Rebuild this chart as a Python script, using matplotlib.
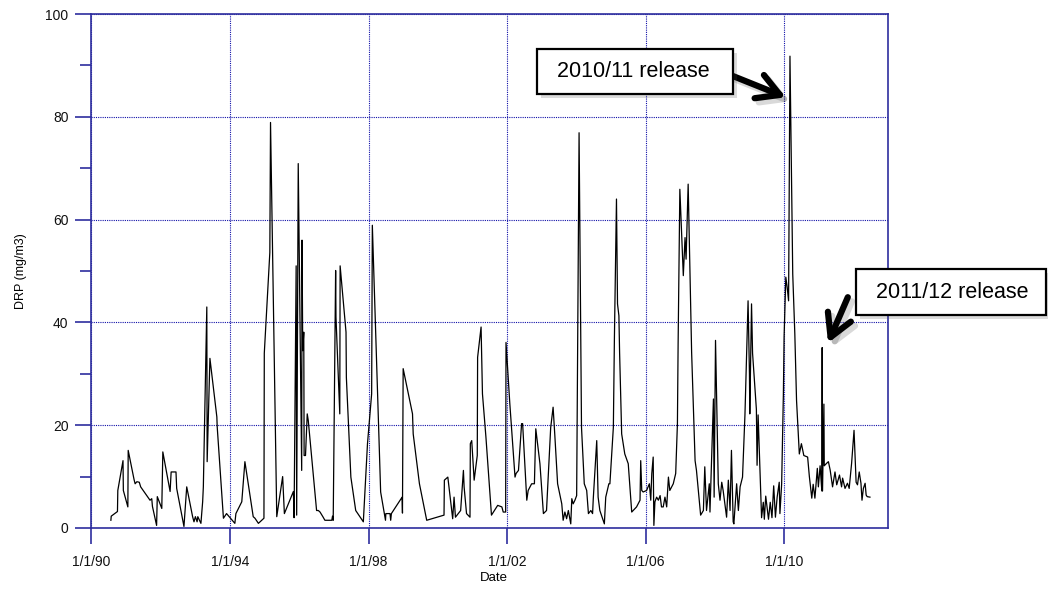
import numpy as np
import matplotlib
matplotlib.use("Agg")
import matplotlib.pyplot as plt
import matplotlib.patheffects as pe
from matplotlib.patches import Rectangle
from matplotlib.ticker import MultipleLocator

plt.rcParams['font.family'] = ['Liberation Sans', 'DejaVu Sans']

# sample dates (decimal years) and DRP values (mg/m3)
years = [
    1990.56, 1990.57, 1990.75, 1990.76, 1990.91, 1990.92, 1991.05, 1991.06, 1991.23, 1991.26,
    1991.31, 1991.38, 1991.42, 1991.69, 1991.74, 1991.76, 1991.88, 1991.90, 1992.03, 1992.06,
    1992.27, 1992.30, 1992.44, 1992.46, 1992.67, 1992.75, 1992.92, 1992.96, 1993.00, 1993.05,
    1993.07, 1993.16, 1993.21, 1993.23, 1993.33, 1993.34, 1993.42, 1993.62, 1993.63, 1993.81,
    1993.90, 1994.14, 1994.17, 1994.34, 1994.43, 1994.67, 1994.72, 1994.82, 1994.98, 1994.99,
    1995.15, 1995.17, 1995.35, 1995.52, 1995.57, 1995.83, 1995.85, 1995.91, 1995.925, 1995.97,
    1996.07, 1996.08, 1996.10, 1996.13, 1996.14, 1996.18, 1996.23, 1996.26, 1996.50, 1996.55,
    1996.60, 1996.69, 1996.74, 1996.94, 1996.96, 1996.98, 1997.05, 1997.06, 1997.17, 1997.18,
    1997.35, 1997.36, 1997.49, 1997.63, 1997.85, 1997.97, 1998.09, 1998.11, 1998.35, 1998.49,
    1998.50, 1998.62, 1998.64, 1998.66, 1998.97, 1998.98, 1999.00, 1999.27, 1999.29, 1999.47,
    1999.68, 2000.18, 2000.19, 2000.29, 2000.43, 2000.47, 2000.51, 2000.66, 2000.74, 2000.76,
    2000.83, 2000.93, 2000.94, 2000.98, 2001.05, 2001.14, 2001.15, 2001.25, 2001.29, 2001.39,
    2001.55, 2001.70, 2001.73, 2001.85, 2001.89, 2001.96, 2001.97, 2002.08, 2002.23, 2002.26,
    2002.33, 2002.42, 2002.45, 2002.57, 2002.61, 2002.71, 2002.79, 2002.83, 2002.95, 2003.05,
    2003.14, 2003.26, 2003.33, 2003.38, 2003.46, 2003.58, 2003.62, 2003.67, 2003.72, 2003.77,
    2003.84, 2003.87, 2003.91, 2003.96, 2004.01, 2004.08, 2004.15, 2004.23, 2004.30, 2004.35,
    2004.42, 2004.47, 2004.49, 2004.59, 2004.63, 2004.68, 2004.81, 2004.85, 2004.94, 2004.97,
    2005.07, 2005.10, 2005.16, 2005.19, 2005.23, 2005.25, 2005.31, 2005.40, 2005.50, 2005.60,
    2005.74, 2005.84, 2005.86, 2005.89, 2005.93, 2006.03, 2006.11, 2006.15, 2006.18, 2006.22,
    2006.24, 2006.27, 2006.32, 2006.37, 2006.42, 2006.46, 2006.51, 2006.56, 2006.61, 2006.66,
    2006.70, 2006.80, 2006.87, 2006.92, 2006.94, 2006.99, 2007.05, 2007.09, 2007.14, 2007.17,
    2007.23, 2007.33, 2007.43, 2007.47, 2007.59, 2007.67, 2007.71, 2007.76, 2007.84, 2007.86,
    2007.96, 2007.98, 2008.02, 2008.10, 2008.15, 2008.20, 2008.24, 2008.29, 2008.34, 2008.39,
    2008.44, 2008.48, 2008.53, 2008.55, 2008.63, 2008.68, 2008.73, 2008.80, 2008.87, 2008.96,
    2009.00, 2009.01, 2009.06, 2009.09, 2009.20, 2009.22, 2009.25, 2009.35, 2009.40, 2009.43,
    2009.47, 2009.55, 2009.60, 2009.65, 2009.70, 2009.75, 2009.80, 2009.86, 2009.88, 2009.93,
    2009.98, 2010.00, 2010.05, 2010.09, 2010.13, 2010.17, 2010.25, 2010.31, 2010.36, 2010.44,
    2010.50, 2010.57, 2010.68, 2010.73, 2010.80, 2010.84, 2010.89, 2010.96, 2010.99, 2011.04,
    2011.09, 2011.10, 2011.11, 2011.15, 2011.16, 2011.23, 2011.28, 2011.33, 2011.40, 2011.47,
    2011.52, 2011.60, 2011.66, 2011.69, 2011.76, 2011.83, 2011.88, 2011.95, 2012.02, 2012.08,
    2012.12, 2012.17, 2012.22, 2012.25, 2012.29, 2012.34, 2012.37, 2012.40, 2012.48,
]
drp = [
    1.5, 2.3, 3.2, 7.3, 13.1, 7.3, 4.1, 15.1, 9.4, 8.6,
    9.0, 8.9, 8.0, 5.4, 5.7, 4.2, 0.5, 6.1, 3.8, 14.8,
    7.1, 10.9, 10.9, 7.7, 0.3, 8.0, 2.2, 1.2, 2.2, 1.2,
    2.2, 0.9, 5.1, 8.0, 43.0, 12.9, 33.0, 21.6, 19.7, 1.9,
    2.8, 0.9, 2.8, 5.1, 12.9, 2.2, 1.9, 0.9, 1.9, 34.0,
    53.6, 78.9, 2.2, 10.0, 2.8, 7.1, 2.0, 51.0, 2.5, 70.9,
    11.2, 56.0, 34.5, 38.1, 14.1, 14.1, 22.2, 20.9, 3.4, 3.4,
    3.1, 2.1, 1.5, 1.5, 2.3, 1.5, 50.1, 41.0, 22.2, 51.0,
    38.1, 29.3, 9.9, 3.4, 1.2, 16.4, 26.1, 58.9, 7.0, 1.5,
    2.8, 2.8, 1.5, 2.8, 6.0, 2.9, 31.0, 22.2, 18.3, 8.6,
    1.5, 2.5, 9.3, 9.9, 1.8, 6.0, 2.1, 3.4, 11.2, 8.0,
    2.8, 2.1, 16.4, 17.0, 9.3, 14.1, 33.2, 39.1, 26.1, 17.7,
    2.5, 4.1, 4.4, 4.1, 3.1, 3.1, 36.1, 24.2, 9.9, 10.6,
    11.2, 20.3, 20.3, 5.4, 7.3, 8.6, 8.6, 19.3, 12.5, 2.8,
    3.4, 19.5, 23.5, 18.0, 8.6, 4.7, 1.5, 3.1, 1.8, 3.4,
    0.8, 5.7, 4.7, 5.4, 6.3, 76.9, 19.6, 8.6, 7.3, 2.8,
    3.4, 2.8, 5.7, 17.0, 6.0, 3.4, 0.8, 6.0, 8.6, 8.6,
    19.6, 36.8, 64.0, 43.6, 41.3, 34.2, 18.3, 14.4, 12.5, 3.1,
    4.1, 5.4, 13.1, 7.3, 7.0, 7.3, 8.6, 5.4, 10.6, 13.8,
    0.5, 5.1, 6.0, 5.4, 6.3, 4.1, 4.1, 6.0, 4.1, 9.9,
    7.3, 8.6, 10.6, 20.3, 35.8, 65.9, 55.5, 49.1, 56.5, 52.3,
    66.9, 34.2, 13.1, 11.2, 2.5, 3.4, 11.9, 3.4, 8.6, 3.1,
    25.1, 6.0, 36.5, 8.6, 5.4, 8.9, 7.3, 4.7, 2.1, 9.3,
    3.4, 15.1, 1.2, 0.8, 8.6, 3.4, 8.0, 9.9, 22.0, 44.2,
    30.0, 22.2, 43.6, 34.0, 23.1, 12.2, 22.0, 2.0, 5.0, 1.7,
    6.2, 1.7, 5.0, 2.0, 8.2, 2.1, 6.0, 8.9, 2.8, 8.6,
    26.1, 37.1, 48.8, 46.8, 44.2, 91.8, 49.4, 37.8, 24.8, 14.4,
    16.4, 14.1, 13.8, 10.0, 5.8, 8.5, 5.8, 11.6, 8.0, 12.1,
    7.2, 35.1, 7.2, 24.1, 12.1, 12.6, 12.9, 11.3, 8.0, 10.9,
    8.4, 10.3, 8.0, 9.7, 7.7, 8.7, 7.7, 12.6, 19.0, 8.9,
    8.4, 10.9, 8.7, 5.4, 7.7, 8.7, 6.4, 6.1, 6.0,
]

tick_years = [1990, 1994, 1998, 2002, 2006, 2010]
tick_labels = ['1/1/%02d' % (y % 100) for y in tick_years]

navy = '#2e2e9e'
grid_blue = '#1010a8'

fig = plt.figure(figsize=(10.48, 5.89), dpi=100)
ax = fig.add_axes([0.0873, 0.1036, 0.7600, 0.8726])

ax.plot(years, drp, color='black', lw=0.9)

ax.set_xlim(1990, 2013)
ax.set_ylim(0, 100)
ax.set_xticks(tick_years)
ax.set_xticklabels(tick_labels)
ax.yaxis.set_major_locator(MultipleLocator(20))
ax.yaxis.set_minor_locator(MultipleLocator(10))

ax.grid(True, which='major', color=grid_blue, linestyle=(0, (1, 1)), lw=0.8)
for s in ax.spines.values():
    s.set_color(navy)
    s.set_linewidth(1.2)

ax.tick_params(axis='both', which='major', direction='out', length=11.5, width=1.2,
               color=navy, labelsize=10, labelcolor='#111111')
ax.tick_params(axis='y', which='minor', direction='out', length=8, width=1.2, color=navy)
ax.tick_params(axis='y', which='major', pad=5)
ax.tick_params(axis='x', which='major', pad=8)

ax.set_ylabel('DRP (mg/m3)', fontsize=9)
ax.yaxis.set_label_coords(-0.081, 0.5)
ax.set_xlabel('Date', fontsize=9.5)
ax.xaxis.set_label_coords(0.505, -0.085)

# callout boxes (figure pixel positions)
W, H = 1048.0, 589.0
shadow = [pe.SimplePatchShadow(offset=(3, -3), alpha=0.2), pe.Normal()]
boxes = [((537, 49, 733, 94), '2010/11 release'),
         ((856, 269, 1046, 315), '2011/12 release')]
for (x0, y0, x1, y1), label in boxes:
    r = Rectangle((x0 / W, 1 - y1 / H), (x1 - x0) / W, (y1 - y0) / H,
                  transform=fig.transFigure, facecolor='white', edgecolor='black',
                  lw=1.6, path_effects=shadow, zorder=5)
    fig.add_artist(r)
    fig.text((x0 + 20) / W, 1 - (y0 + y1) / 2 / H, label, fontsize=15.5,
             ha='left', va='center', zorder=6)

arrow_fx = [pe.SimpleLineShadow(offset=(3, -3), alpha=0.15, shadow_color='black'), pe.Normal()]
arrows = [((2010.05, 83.8), (2008.35, 88.4)),
          ((2011.27, 36.0), (2011.84, 44.9))]
for tip, tail in arrows:
    ax.annotate('', xy=tip, xytext=tail, annotation_clip=False,
                arrowprops=dict(arrowstyle='->,head_length=0.8,head_width=0.45',
                                mutation_scale=20, lw=4.5, color='black',
                                shrinkA=0, shrinkB=0, path_effects=arrow_fx))

fig.savefig('out.png', dpi=100)
